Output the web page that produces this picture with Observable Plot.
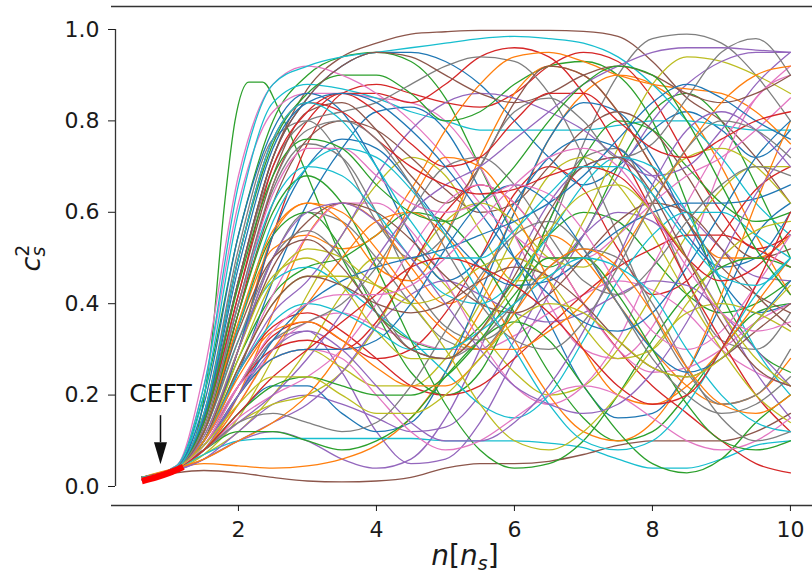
<!DOCTYPE html>
<html><head><meta charset="utf-8">
<script src="https://cdn.jsdelivr.net/npm/d3@7"></script>
<script src="https://cdn.jsdelivr.net/npm/@observablehq/plot@0.6"></script>
<style>body{margin:0;background:#fff}svg{display:block}</style>
</head><body><div id="chart"></div>
<script>
const tab10 = ["#1f77b4","#ff7f0e","#2ca02c","#d62728","#9467bd","#8c564b","#e377c2","#7f7f7f","#bcbd22","#17becf"];
const xTicks = [2,4,6,8,10];
const yTicks = [0,0.2,0.4,0.6,0.8,1.0];
const nGrid = [0.6,1.1,1.5,2,2.5,3,3.5,4,4.5,5,5.5,6,6.5,7,7.5,8,8.5,9,9.5,10];

const batchA = [
[0.02,0.04,0.15,0.45,0.72,0.85,0.92,0.95,0.95,0.93,0.88,0.80,0.72,0.66,0.70,0.78,0.82,0.78,0.72,0.78],
[0.02,0.04,0.08,0.2,0.38,0.55,0.62,0.58,0.48,0.40,0.45,0.60,0.76,0.86,0.90,0.88,0.82,0.7,0.55,0.42],
[0.02,0.045,0.2,0.55,0.8,0.9,0.94,0.95,0.93,0.85,0.7,0.55,0.48,0.55,0.7,0.82,0.86,0.8,0.66,0.5],
[0.02,0.04,0.1,0.3,0.55,0.75,0.86,0.88,0.86,0.84,0.83,0.86,0.92,0.95,0.93,0.85,0.72,0.6,0.52,0.55],
[0.015,0.035,0.06,0.1,0.12,0.1,0.06,0.04,0.06,0.15,0.3,0.48,0.62,0.7,0.72,0.68,0.6,0.52,0.46,0.45],
[0.02,0.045,0.15,0.45,0.72,0.87,0.94,0.97,0.99,0.995,0.998,0.998,0.998,0.996,0.985,0.93,0.85,0.8,0.72,0.62],
[0.02,0.045,0.22,0.62,0.82,0.86,0.86,0.85,0.84,0.8,0.7,0.55,0.4,0.3,0.28,0.35,0.5,0.7,0.85,0.9],
[0.02,0.04,0.12,0.4,0.65,0.75,0.72,0.6,0.45,0.35,0.32,0.38,0.55,0.75,0.9,0.98,0.99,0.97,0.9,0.8],
[0.015,0.035,0.07,0.15,0.28,0.42,0.55,0.66,0.72,0.68,0.56,0.45,0.46,0.58,0.74,0.88,0.94,0.93,0.9,0.86],
[0.02,0.04,0.2,0.6,0.84,0.88,0.87,0.85,0.82,0.8,0.78,0.78,0.78,0.78,0.79,0.8,0.8,0.79,0.78,0.78]
];
const batchB = [
[0.02,0.04,0.1,0.25,0.45,0.62,0.74,0.82,0.83,0.78,0.65,0.5,0.36,0.22,0.15,0.16,0.25,0.4,0.55,0.62],
[0.02,0.04,0.05,0.045,0.04,0.045,0.06,0.09,0.15,0.25,0.38,0.5,0.55,0.5,0.4,0.3,0.22,0.18,0.2,0.28],
[0.02,0.04,0.15,0.5,0.75,0.86,0.9,0.9,0.86,0.8,0.82,0.88,0.92,0.93,0.9,0.8,0.62,0.42,0.3,0.25],
[0.02,0.04,0.09,0.22,0.33,0.36,0.32,0.28,0.3,0.38,0.5,0.64,0.7,0.65,0.52,0.42,0.45,0.55,0.65,0.7],
[0.015,0.035,0.08,0.2,0.32,0.34,0.25,0.12,0.05,0.06,0.14,0.28,0.42,0.55,0.68,0.8,0.88,0.93,0.95,0.95],
[0.02,0.04,0.12,0.38,0.62,0.76,0.8,0.78,0.72,0.65,0.6,0.62,0.7,0.78,0.82,0.78,0.68,0.56,0.5,0.52],
[0.02,0.04,0.08,0.18,0.3,0.36,0.38,0.35,0.32,0.3,0.3,0.33,0.38,0.42,0.45,0.43,0.38,0.3,0.25,0.22],
[0.02,0.04,0.1,0.3,0.5,0.6,0.58,0.5,0.4,0.32,0.3,0.4,0.58,0.72,0.74,0.62,0.45,0.32,0.3,0.38],
[0.02,0.04,0.07,0.12,0.2,0.3,0.42,0.5,0.5,0.44,0.34,0.25,0.2,0.22,0.3,0.42,0.55,0.65,0.7,0.7],
[0.02,0.04,0.07,0.1,0.105,0.105,0.105,0.105,0.105,0.1,0.1,0.1,0.095,0.085,0.06,0.04,0.04,0.06,0.09,0.1]
];
const batchC = [
[0.02,0.04,0.18,0.55,0.78,0.86,0.82,0.7,0.55,0.45,0.5,0.62,0.72,0.76,0.74,0.66,0.55,0.48,0.5,0.6],
[0.02,0.04,0.1,0.3,0.55,0.62,0.58,0.48,0.45,0.55,0.72,0.86,0.92,0.9,0.82,0.7,0.58,0.5,0.5,0.55],
[0.02,0.04,0.1,0.28,0.42,0.48,0.5,0.55,0.6,0.58,0.5,0.38,0.25,0.15,0.1,0.12,0.2,0.3,0.38,0.4],
[0.02,0.04,0.12,0.38,0.66,0.8,0.86,0.86,0.84,0.88,0.94,0.96,0.94,0.86,0.74,0.6,0.45,0.32,0.2,0.12],
[0.015,0.035,0.06,0.12,0.18,0.2,0.18,0.15,0.12,0.13,0.2,0.32,0.45,0.55,0.6,0.58,0.5,0.38,0.25,0.15],
[0.015,0.03,0.035,0.03,0.02,0.012,0.01,0.012,0.02,0.04,0.05,0.05,0.055,0.07,0.09,0.1,0.1,0.1,0.12,0.16],
[0.02,0.045,0.25,0.68,0.88,0.92,0.9,0.86,0.8,0.72,0.62,0.55,0.5,0.5,0.55,0.62,0.68,0.72,0.78,0.85],
[0.02,0.04,0.15,0.45,0.7,0.8,0.82,0.84,0.88,0.92,0.94,0.93,0.86,0.72,0.55,0.38,0.25,0.18,0.2,0.3],
[0.02,0.04,0.09,0.2,0.28,0.3,0.26,0.22,0.22,0.28,0.4,0.55,0.68,0.72,0.66,0.55,0.42,0.3,0.2,0.14],
[0.02,0.045,0.22,0.66,0.88,0.92,0.94,0.95,0.96,0.97,0.98,0.985,0.98,0.97,0.94,0.88,0.8,0.72,0.62,0.55]
];
const batchD = [
[0.02,0.04,0.08,0.16,0.22,0.22,0.16,0.12,0.14,0.25,0.42,0.6,0.76,0.84,0.82,0.72,0.58,0.45,0.38,0.4],
[0.02,0.04,0.12,0.35,0.52,0.55,0.52,0.55,0.65,0.78,0.88,0.94,0.95,0.93,0.9,0.88,0.87,0.86,0.82,0.75],
[0.02,0.04,0.12,0.35,0.55,0.6,0.52,0.38,0.25,0.2,0.25,0.4,0.58,0.72,0.8,0.78,0.7,0.62,0.58,0.6],
[0.02,0.04,0.1,0.25,0.35,0.38,0.34,0.28,0.22,0.2,0.22,0.28,0.35,0.42,0.48,0.52,0.55,0.55,0.52,0.48],
[0.02,0.04,0.1,0.25,0.38,0.45,0.55,0.68,0.78,0.84,0.86,0.85,0.82,0.78,0.72,0.68,0.7,0.78,0.88,0.95],
[0.02,0.04,0.14,0.42,0.68,0.82,0.84,0.78,0.68,0.62,0.7,0.84,0.92,0.9,0.82,0.7,0.58,0.48,0.42,0.38],
[0.02,0.04,0.1,0.26,0.42,0.55,0.62,0.62,0.56,0.45,0.32,0.22,0.18,0.22,0.32,0.48,0.62,0.75,0.85,0.92],
[0.02,0.04,0.16,0.52,0.76,0.8,0.72,0.58,0.5,0.55,0.7,0.82,0.85,0.8,0.72,0.75,0.85,0.95,0.98,0.9],
[0.02,0.04,0.08,0.14,0.18,0.2,0.25,0.35,0.48,0.58,0.62,0.58,0.5,0.48,0.55,0.65,0.72,0.74,0.7,0.62],
[0.02,0.04,0.12,0.32,0.45,0.48,0.44,0.38,0.32,0.25,0.18,0.15,0.2,0.32,0.45,0.55,0.6,0.6,0.55,0.5]
];
const batchE = [
[0.02,0.04,0.1,0.3,0.55,0.7,0.76,0.74,0.66,0.56,0.48,0.44,0.45,0.5,0.56,0.6,0.62,0.62,0.63,0.66],
[0.02,0.04,0.08,0.18,0.3,0.4,0.5,0.58,0.6,0.55,0.45,0.32,0.2,0.12,0.1,0.14,0.25,0.42,0.62,0.8],
[0.02,0.04,0.12,0.38,0.6,0.68,0.62,0.48,0.32,0.18,0.08,0.04,0.05,0.1,0.2,0.32,0.42,0.48,0.5,0.48],
[0.02,0.04,0.1,0.22,0.3,0.32,0.3,0.36,0.48,0.6,0.66,0.62,0.52,0.4,0.3,0.22,0.16,0.1,0.05,0.03],
[0.015,0.035,0.06,0.1,0.14,0.18,0.25,0.35,0.42,0.45,0.42,0.38,0.36,0.38,0.42,0.45,0.44,0.38,0.3,0.22],
[0.02,0.04,0.14,0.45,0.72,0.85,0.92,0.95,0.94,0.9,0.86,0.84,0.86,0.9,0.92,0.9,0.86,0.84,0.86,0.9],
[0.02,0.04,0.08,0.15,0.2,0.24,0.3,0.4,0.52,0.62,0.66,0.62,0.52,0.4,0.3,0.25,0.26,0.3,0.36,0.4],
[0.02,0.04,0.1,0.22,0.32,0.36,0.4,0.48,0.6,0.7,0.72,0.66,0.55,0.45,0.42,0.48,0.58,0.66,0.7,0.68],
[0.02,0.04,0.1,0.28,0.45,0.52,0.5,0.44,0.4,0.42,0.48,0.5,0.45,0.35,0.28,0.3,0.4,0.5,0.56,0.58],
[0.02,0.04,0.14,0.4,0.62,0.7,0.68,0.6,0.5,0.42,0.4,0.45,0.55,0.66,0.72,0.7,0.6,0.45,0.3,0.2]
];
const batchF = [
[0.02,0.04,0.09,0.2,0.32,0.4,0.45,0.48,0.5,0.52,0.55,0.58,0.62,0.68,0.76,0.84,0.88,0.85,0.8,0.76],
[0.02,0.04,0.06,0.1,0.14,0.2,0.3,0.45,0.62,0.72,0.7,0.6,0.45,0.3,0.2,0.18,0.22,0.3,0.4,0.5],
[0.02,0.04,0.08,0.12,0.12,0.1,0.08,0.1,0.15,0.24,0.32,0.36,0.32,0.22,0.12,0.05,0.03,0.06,0.14,0.2],
[0.02,0.04,0.14,0.42,0.7,0.82,0.86,0.82,0.75,0.7,0.72,0.8,0.86,0.86,0.8,0.74,0.72,0.76,0.8,0.82],
[0.02,0.04,0.08,0.14,0.2,0.28,0.38,0.5,0.6,0.66,0.7,0.76,0.82,0.88,0.92,0.95,0.96,0.96,0.955,0.95],
[0.02,0.04,0.1,0.3,0.48,0.58,0.62,0.6,0.54,0.46,0.4,0.38,0.42,0.5,0.58,0.62,0.6,0.52,0.42,0.35],
[0.02,0.04,0.1,0.22,0.28,0.3,0.28,0.2,0.12,0.08,0.1,0.15,0.2,0.22,0.2,0.15,0.1,0.08,0.1,0.15],
[0.02,0.04,0.12,0.32,0.5,0.56,0.5,0.4,0.3,0.28,0.32,0.4,0.48,0.52,0.5,0.4,0.26,0.15,0.1,0.12],
[0.02,0.04,0.1,0.26,0.4,0.46,0.46,0.44,0.4,0.3,0.18,0.1,0.08,0.12,0.2,0.3,0.38,0.4,0.38,0.34],
[0.02,0.04,0.12,0.35,0.58,0.7,0.74,0.72,0.65,0.55,0.42,0.3,0.18,0.1,0.08,0.1,0.18,0.3,0.42,0.5]
];
const batchG = [
[0.02,0.04,0.09,0.2,0.28,0.3,0.3,0.32,0.4,0.52,0.62,0.66,0.62,0.52,0.4,0.3,0.25,0.28,0.36,0.45],
[0.02,0.04,0.12,0.36,0.56,0.62,0.6,0.52,0.42,0.34,0.3,0.3,0.34,0.4,0.5,0.62,0.74,0.84,0.9,0.92],
[0.02,0.04,0.08,0.16,0.22,0.24,0.22,0.2,0.2,0.24,0.32,0.42,0.5,0.5,0.42,0.3,0.18,0.1,0.08,0.1],
[0.02,0.04,0.16,0.5,0.76,0.84,0.82,0.76,0.7,0.66,0.64,0.65,0.68,0.7,0.68,0.6,0.5,0.45,0.48,0.56],
[0.02,0.04,0.09,0.2,0.3,0.34,0.3,0.22,0.14,0.1,0.1,0.14,0.22,0.34,0.5,0.66,0.78,0.82,0.78,0.7],
[0.02,0.04,0.1,0.26,0.4,0.46,0.44,0.4,0.38,0.4,0.45,0.48,0.46,0.4,0.32,0.26,0.24,0.28,0.34,0.4],
[0.02,0.04,0.13,0.4,0.64,0.74,0.74,0.68,0.62,0.6,0.62,0.66,0.64,0.56,0.44,0.34,0.3,0.34,0.44,0.55],
[0.02,0.04,0.08,0.14,0.16,0.14,0.12,0.14,0.22,0.34,0.46,0.55,0.58,0.52,0.4,0.28,0.2,0.16,0.18,0.24],
[0.02,0.04,0.11,0.3,0.46,0.5,0.44,0.34,0.28,0.28,0.34,0.44,0.56,0.64,0.66,0.6,0.5,0.38,0.28,0.22],
[0.02,0.04,0.1,0.25,0.36,0.4,0.38,0.34,0.3,0.3,0.34,0.4,0.46,0.5,0.48,0.42,0.3,0.2,0.14,0.12]
];
const batchH = [
[0.02,0.04,0.15,0.48,0.74,0.84,0.86,0.84,0.78,0.7,0.6,0.5,0.42,0.36,0.34,0.38,0.48,0.6,0.72,0.8],
[0.02,0.04,0.1,0.24,0.34,0.36,0.32,0.26,0.22,0.22,0.28,0.38,0.48,0.52,0.48,0.38,0.26,0.18,0.16,0.2],
[0.02,0.04,0.14,0.44,0.68,0.76,0.74,0.66,0.6,0.58,0.62,0.7,0.8,0.88,0.92,0.9,0.8,0.66,0.52,0.42],
[0.02,0.04,0.08,0.16,0.24,0.3,0.36,0.42,0.48,0.5,0.48,0.44,0.38,0.3,0.22,0.18,0.2,0.3,0.44,0.6],
[0.02,0.04,0.11,0.3,0.5,0.6,0.62,0.58,0.5,0.4,0.3,0.22,0.18,0.16,0.18,0.25,0.36,0.5,0.64,0.74],
[0.02,0.04,0.12,0.34,0.5,0.54,0.48,0.38,0.3,0.28,0.34,0.46,0.6,0.7,0.72,0.64,0.5,0.36,0.26,0.22],
[0.02,0.04,0.09,0.22,0.34,0.4,0.42,0.42,0.44,0.5,0.58,0.66,0.72,0.74,0.7,0.6,0.48,0.38,0.34,0.36],
[0.02,0.04,0.13,0.4,0.66,0.78,0.8,0.76,0.66,0.52,0.4,0.32,0.3,0.36,0.48,0.62,0.74,0.8,0.78,0.72],
[0.02,0.04,0.09,0.18,0.24,0.24,0.2,0.16,0.16,0.2,0.28,0.36,0.4,0.38,0.32,0.26,0.24,0.28,0.36,0.44],
[0.02,0.04,0.16,0.5,0.76,0.84,0.8,0.7,0.58,0.5,0.5,0.56,0.64,0.7,0.7,0.64,0.54,0.46,0.44,0.5]
];

// the early-rising green curve
const earlyN = [0.6,1.1,1.4,1.6,1.8,1.95,2.15,2.35,2.6,3.0,3.5,4.0,4.5,5,5.5,6,6.5,7,7.5,8,8.5,9,9.5,10];
const earlyC = [0.02,0.04,0.12,0.3,0.62,0.8,0.885,0.885,0.82,0.68,0.5,0.38,0.32,0.3,0.35,0.45,0.55,0.6,0.58,0.5,0.42,0.38,0.4,0.45];

// CEFT band
const ceftN = [0.6,0.8,1.0,1.2];
const ceftC = [0.012,0.02,0.03,0.043];

// annotation
const ceftLabel = {n: 0.87, c: 0.203, text: "CEFT"};
const arrowShaft = {n: 0.87, c1: 0.155, c2: 0.096};
const arrowHead = {n: 0.87, c: 0.073};

const curves = [...batchA, ...batchB, ...batchC, ...batchD, ...batchE, ...batchF, ...batchG, ...batchH];
const rows = [];
earlyN.forEach((n, j) => rows.push({id: "early", n, c: earlyC[j], color: tab10[2]}));
curves.forEach((ys, i) => ys.forEach((c, j) => { if (j < nGrid.length) rows.push({id: i, n: nGrid[j], c, color: tab10[i % 10]}); }));
const ceft = ceftN.map((n, j) => ({n, c: ceftC[j]}));

const xDomain = [0.16, 10.32];
const yDomain = [-0.0416, 1.0503];

const headSymbol = {draw(ctx) { ctx.moveTo(-6.5, -11); ctx.lineTo(6.5, -11); ctx.lineTo(0, 11); ctx.closePath(); }};

const chart = Plot.plot({
  width: 812, height: 573,
  marginLeft: 111, marginRight: 0, marginTop: 6, marginBottom: 68,
  x: {domain: xDomain},
  y: {domain: yDomain},
  color: {type: "identity"},
  style: {fontFamily: "DejaVu Sans", fontSize: "22px", color: "#1a1a1a", background: "white"},
  marks: [
    Plot.line(rows, {x: "n", y: "c", z: "id", stroke: "color", strokeWidth: 1.3, curve: "monotone-x"}),
    Plot.line(ceft, {x: "n", y: "c", stroke: "#ff0000", strokeWidth: 6.5, strokeLinecap: "butt", curve: "monotone-x"}),
    Plot.ruleX([xDomain[0]], {y1: yTicks[0], y2: yTicks[yTicks.length - 1], dx: 4, stroke: "#333", strokeWidth: 1.3}),
    Plot.ruleY(yDomain, {stroke: "#333", strokeWidth: 1.3}),
    Plot.axisY({ticks: yTicks, tickFormat: d3.format(".1f"), tickSize: 7, tickPadding: 9, dx: 4, fontSize: 22, label: null}),
    Plot.axisX({ticks: xTicks, tickSize: 6, tickPadding: 10, fontSize: 22, label: null}),
    Plot.text([ceftLabel], {x: "n", y: "c", text: "text", fontSize: 25, textAnchor: "middle", lineAnchor: "middle", fill: "#111"}),
    Plot.ruleX([arrowShaft], {x: "n", y1: "c1", y2: "c2", stroke: "#111", strokeWidth: 1.5}),
    Plot.dot([arrowHead], {x: "n", y: "c", symbol: headSymbol, fill: "#111", stroke: "none", r: 6})
  ]
});
document.getElementById("chart").appendChild(chart);

const svg = d3.select(chart);
const yl = svg.append("text")
  .attr("transform", "translate(40,258) rotate(-90)")
  .attr("text-anchor", "middle")
  .attr("font-family", "DejaVu Sans").attr("font-size", 27).attr("fill", "#1a1a1a");
yl.append("tspan").attr("font-style", "italic").text("c");
yl.append("tspan").attr("font-style", "italic").attr("font-size", 19).attr("dy", 5).text("s");
yl.append("tspan").attr("font-size", 19).attr("dx", -10).attr("dy", -16).text("2");

const xl = svg.append("text")
  .attr("x", 465).attr("y", 565)
  .attr("text-anchor", "middle")
  .attr("font-family", "DejaVu Sans").attr("font-size", 28).attr("fill", "#1a1a1a");
xl.append("tspan").attr("font-style", "italic").text("n");
xl.append("tspan").text("[");
xl.append("tspan").attr("font-style", "italic").text("n");
xl.append("tspan").attr("font-style", "italic").attr("font-size", 19).attr("dy", 5).text("s");
xl.append("tspan").attr("dy", -5).text("]");
</script>
</body></html>
